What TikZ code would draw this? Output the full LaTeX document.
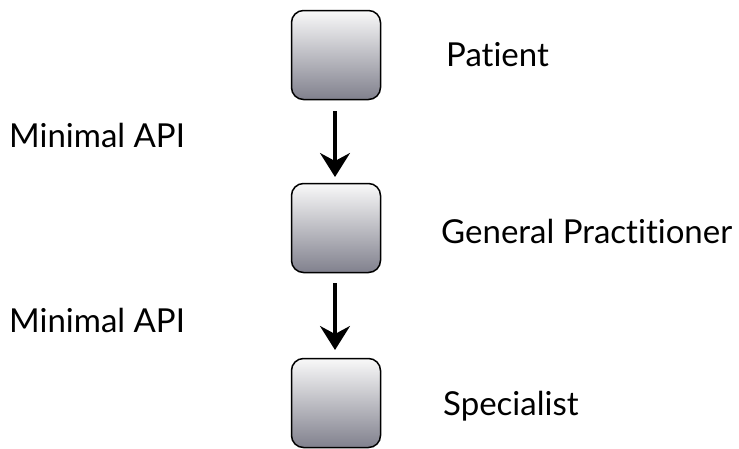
\documentclass[tikz,border=0pt]{standalone}
\usepackage{fontspec}
\setmainfont[Ligatures=NoCommon]{Lato}
\usetikzlibrary{arrows.meta}
\begin{document}
\begin{tikzpicture}[x=1pt,y=-1pt,
  boxstyle/.style={draw=black,line width=1.5pt,rounded corners=12pt,minimum width=89pt,minimum height=89pt,top color=white!95!gray,bottom color=black!45!blue!10!gray!90},
  lbl/.style={anchor=west,font=\fontsize{33}{38}\selectfont,inner sep=0pt},
  arr/.style={line width=3.4pt,-{Stealth[length=24pt,width=30pt,inset=8pt]}}]
\useasboundingbox (0,0) rectangle (739,448);
\node[boxstyle] (b1) at (336,55) {};
\node[boxstyle] (b2) at (336,228) {};
\node[boxstyle] (b3) at (336,403) {};
\coordinate (a1s) at (335,111);
\coordinate (a1e) at (335,177);
\coordinate (a2s) at (335,283);
\coordinate (a2e) at (335,350);
\draw[arr] (a1s) -- (a1e);
\draw[arr] (a2s) -- (a2e);
\node[lbl] (t1) at (446,55) {Patient};
\node[lbl] (t2) at (441,231) {General Practitioner};
\node[lbl] (t3) at (443,406) {Specialist};
\node[lbl] (m1) at (9,135) {Minimal API};
\node[lbl] (m2) at (9,320) {Minimal API};
\end{tikzpicture}
\end{document}
